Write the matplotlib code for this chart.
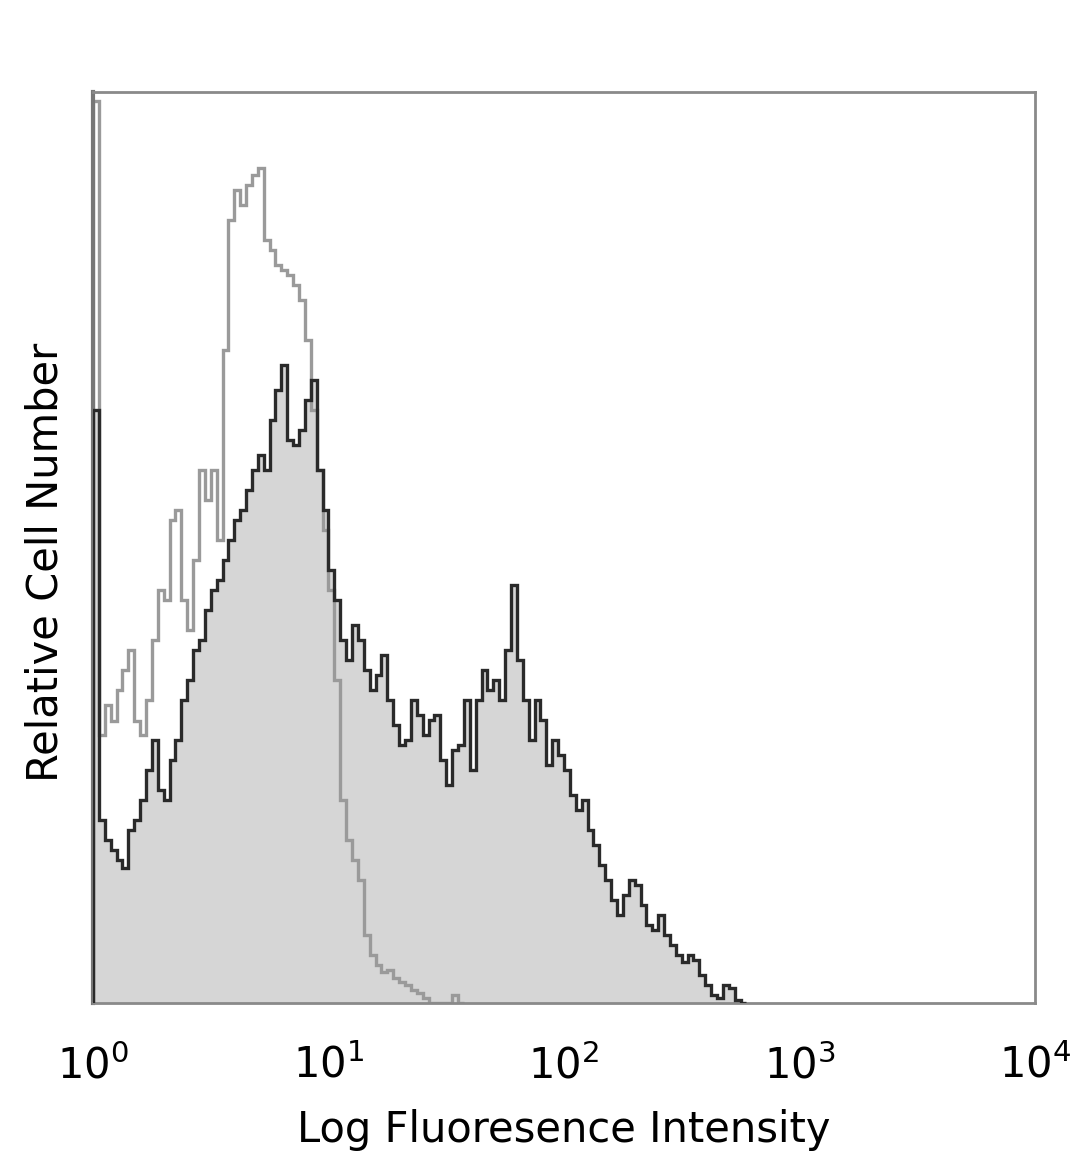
import numpy as np
import matplotlib
matplotlib.use("Agg")
import matplotlib.pyplot as plt

# histogram channels: 160 bins over 4 decades (10^0 .. 10^4)
n_bins = 160
decades = 4

# isotype control (gray line), counts per channel from channel 0
iso_counts = [99, 29.4, 32.7, 31, 34.4, 36.6, 38.7, 31, 29.4, 33.3,
              39.8, 45.3, 44.2, 53, 54.1, 44.2, 40.9, 48.6, 58.5, 55.2,
              58.5, 50.8, 71.7, 86, 89.2, 87.6, 89.8, 90.9, 91.7, 83.8,
              82.7, 81, 80.5, 79.9, 78.8, 77.2, 72.8, 65.1, 58.5, 51.9,
              45.3, 35.5, 22.3, 17.9, 15.7, 13.5, 7.5, 5.3, 4.2, 3.4,
              3.6, 2.7, 2.3, 2.0, 1.4, 1.1, 0.5, 0, 0, 0,
              0, 0.9, 0]

# stained sample (filled histogram)
stain_counts = [65.1, 20.1, 17.9, 16.8, 15.7, 14.8, 19, 20.1, 22.3, 25.6,
                28.9, 23.4, 22.3, 26.7, 28.9, 33.3, 35.5, 38.7, 39.8, 43.1,
                45.3, 46.4, 48.6, 50.8, 53, 54.1, 56.3, 58.5, 60.2, 58.5,
                64, 67.3, 70, 61.8, 61.3, 62.9, 66.2, 68.4, 58.5, 54.1,
                47.5, 44.2, 39.8, 37.7, 41.5, 39.8, 36.6, 34.4, 36, 38.2,
                33.3, 30.5, 28.3, 28.9, 33.3, 31.6, 29.4, 31.1, 31.6, 26.7,
                23.9, 27.8, 28.3, 33.3, 25.6, 33.3, 36.6, 34.4, 35.5, 33.3,
                38.7, 45.9, 37.7, 33.3, 28.9, 33.3, 31.1, 26.1, 28.9, 27.2,
                25.6, 22.8, 21.2, 22.3, 19, 17.3, 15.1, 13.5, 11.3, 9.7,
                11.9, 13.5, 13, 10.8, 8.6, 8, 9.7, 7.5, 6.4, 5.3,
                4.5, 5.3, 4.7, 3.1, 2, 0.9, 0.5, 2, 1.6, 0.3,
                0]

tick_values = [1, 10, 100, 1000, 10000]

plt.rcParams['font.family'] = ['DejaVu Sans']

fig = plt.figure(figsize=(10.8, 11.69), dpi=100)
ax = fig.add_axes([0.0861, 0.142, 0.8722, 0.7793])

edges_all = np.logspace(0, decades, n_bins + 1)

stain_edges = edges_all[:len(stain_counts) + 1]
ax.stairs(stain_counts, stain_edges, fill=True, color='#d6d6d6', zorder=1)
ax.stairs(stain_counts, stain_edges, color='#2a2a2a', linewidth=2.4, zorder=3)

iso_edges = edges_all[:len(iso_counts) + 1]
ax.stairs(iso_counts, iso_edges, color='#9a9a9a', linewidth=2.4, zorder=2)

ax.set_xscale('log')
ax.set_xlim(1, 1e4)
ax.set_ylim(0, 100)
ax.set_xticks(tick_values)
ax.minorticks_off()
ax.set_yticks([])
ax.tick_params(axis='x', length=0, pad=30, labelsize=30)

for side in ['top', 'right', 'bottom']:
    ax.spines[side].set_color('#8a8a8a')
    ax.spines[side].set_linewidth(2)
ax.spines['left'].set_color('#777777')
ax.spines['left'].set_linewidth(3)

ax.set_xlabel('Log Fluoresence Intensity', fontsize=30, labelpad=16)
ax.set_ylabel('Relative Cell Number', fontsize=30)
ax.yaxis.set_label_coords(-0.028, 0.484)

fig.savefig('out.png', dpi=100)
